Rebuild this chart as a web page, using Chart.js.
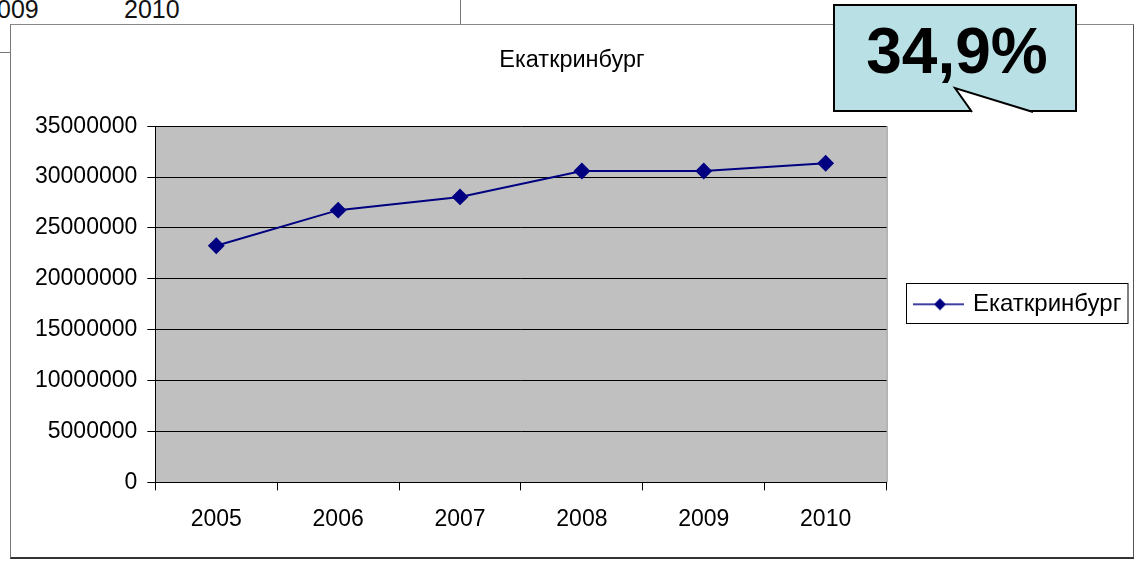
<!DOCTYPE html>
<html>
<head>
<meta charset="utf-8">
<script src="https://cdn.jsdelivr.net/npm/chart.js@4"></script>
<style>
  body { margin: 0; width: 1134px; height: 563px; background: #fff; position: relative; overflow: hidden;
         font-family: "Liberation Sans", Arial, sans-serif; }
  .cell { position: absolute; top: -5px; font-size: 25px; color: #111; }
  #vline { position: absolute; left: 460px; top: 0; width: 1px; height: 24px; background: #777; }
  #stub { position: absolute; left: 0; top: 52px; width: 10px; height: 1px; background: #777; }
  #frame { position: absolute; left: 10px; top: 24px; width: 1122px; height: 532px;
           border-top: 1px solid #888; border-left: 1px solid #777; border-right: 2px solid #555; border-bottom: 2px solid #333; }
  #wrap { position: absolute; left: 0; top: 0; width: 1122px; height: 532px; }
  #callout { position: absolute; left: 833px; top: 4px; width: 240px; height: 104px;
             background: #b9e0e4; border: 2px solid #000; }
  #callout span { position: absolute; left: 0; width: 244px; top: 8px; text-align: center;
                  font-weight: bold; font-size: 64px; color: #000; }
  #tail { position: absolute; left: 0; top: 0; }
</style>
</head>
<body>
<div class="cell" style="left:-3px">009</div>
<div class="cell" style="left:124px">2010</div>
<div id="vline"></div>
<div id="stub"></div>
<div id="frame"><div id="wrap"><canvas id="chart"></canvas></div></div>
<div id="callout"><span>34,9%</span></div>
<svg id="tail" width="1134" height="130">
  <polygon points="955,88 972,112 1033,112" fill="#fff" stroke="none"/>
  <polyline points="972,112 955,88 1033,112" fill="none" stroke="#000" stroke-width="2"/>
</svg>
<script>
const years = ['2005', '2006', '2007', '2008', '2009', '2010'];
const population = [23250000, 26750000, 28050000, 30600000, 30600000, 31360000];
const seriesName = 'Екаткринбург';
const yTicks = [0, 5000000, 10000000, 15000000, 20000000, 25000000, 30000000, 35000000];

const navy = '#000080';
const tickFont = { family: 'Liberation Sans', size: 23 };

// legend symbol: line with a diamond on it
const sym = document.createElement('canvas');
sym.width = 54; sym.height = 16;
(function () {
  const c = sym.getContext('2d');
  c.strokeStyle = navy; c.lineWidth = 1.5;
  c.beginPath(); c.moveTo(0, 8); c.lineTo(54, 8); c.stroke();
  c.fillStyle = navy;
  c.beginPath(); c.moveTo(30, 2); c.lineTo(36, 8); c.lineTo(30, 14); c.lineTo(24, 8); c.closePath(); c.fill();
})();

const plotBg = {
  id: 'plotBg',
  beforeDraw(chart) {
    const a = chart.chartArea, ctx = chart.ctx;
    ctx.save();
    ctx.fillStyle = '#c0c0c0';
    ctx.fillRect(a.left, a.top, a.right - a.left, a.bottom - a.top);
    ctx.strokeStyle = '#808080';
    ctx.lineWidth = 1;
    ctx.beginPath();
    ctx.moveTo(a.right + 0.5, a.top); ctx.lineTo(a.right + 0.5, a.bottom);
    ctx.stroke();
    ctx.restore();
  }
};

// legend next to the plot, centred on it; title centred on the whole frame
const legendPlace = {
  id: 'legendPlace',
  afterLayout(chart) {
    const lg = chart.legend, a = chart.chartArea;
    const h = lg.bottom - lg.top, w = lg.right - lg.left;
    const mid = (a.top + a.bottom) / 2;
    lg.top = mid - h / 2; lg.bottom = lg.top + h;
    lg.left = 902; lg.right = lg.left + w;
    const tb = chart.titleBlock;
    tb.left += 7; tb.right += 7;
  },
  afterDraw(chart) {
    const hb = chart.legend.legendHitBoxes[0];
    if (!hb) return;
    const ctx = chart.ctx;
    ctx.save();
    ctx.strokeStyle = '#000';
    ctx.lineWidth = 1;
    const l = Math.round(hb.left) - 6.5, t = Math.round(hb.top) - 8.5;
    ctx.strokeRect(l, t, Math.round(hb.left + hb.width) + 7 - l, hb.height + 16);
    ctx.restore();
  }
};

new Chart(document.getElementById('chart'), {
  type: 'line',
  data: {
    labels: years,
    datasets: [{
      label: seriesName,
      data: population,
      borderColor: navy,
      backgroundColor: navy,
      borderWidth: 2,
      pointStyle: 'rectRot',
      pointRadius: 7,
      pointBackgroundColor: navy,
      pointBorderColor: navy,
      tension: 0
    }]
  },
  options: {
    responsive: true,
    maintainAspectRatio: false,
    animation: false,
    layout: { padding: { left: 14, right: 28, top: 0, bottom: 9 } },
    plugins: {
      title: {
        display: true,
        text: seriesName,
        color: '#000',
        font: { family: 'Liberation Sans', size: 23.5, weight: 'normal' },
        padding: { top: 21, bottom: 52 }
      },
      legend: {
        position: 'right',
        labels: {
          color: '#000',
          font: { family: 'Liberation Sans', size: 24 },
          usePointStyle: true,
          pointStyle: sym,
          pointStyleWidth: 48,
          padding: 0,
          generateLabels(chart) {
            return [{ text: seriesName, pointStyle: sym, fontColor: '#000', lineWidth: 0, datasetIndex: 0 }];
          }
        }
      },
      tooltip: { enabled: false }
    },
    scales: {
      x: {
        offset: true,
        grid: { display: true, drawOnChartArea: false, color: '#000', tickLength: 8, offset: true },
        border: { color: '#000' },
        ticks: { color: '#000', font: tickFont, padding: 15 }
      },
      y: {
        min: 0,
        max: 35000000,
        afterBuildTicks(axis) { axis.ticks = yTicks.map(v => ({ value: v })); },
        grid: { color: '#000', lineWidth: 1, tickLength: 8 },
        border: { color: '#000' },
        ticks: { color: '#000', font: tickFont, padding: 10, callback: v => String(v) }
      }
    }
  },
  plugins: [plotBg, legendPlace]
});
</script>
</body>
</html>
